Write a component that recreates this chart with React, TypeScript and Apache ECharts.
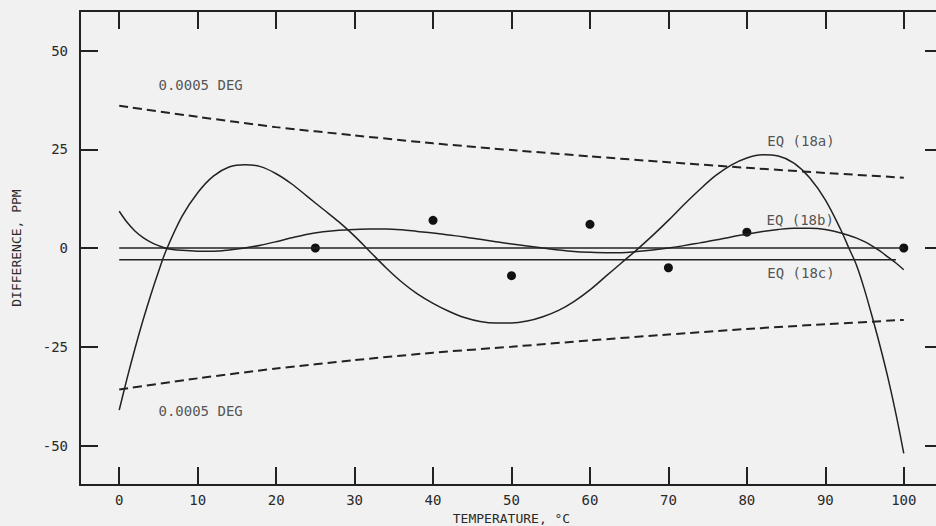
import React, { useEffect, useRef } from "react";
import * as echarts from "echarts";

// Temperature grid for the curves (°C)
const curveX = [0, 1, 2, 3, 4, 5, 6, 8, 10, 12, 14, 16, 18, 20, 22, 24, 26, 28, 30, 32, 34, 36, 38, 40, 42, 44, 46, 48, 50, 52, 54, 56, 58, 60, 62, 64, 66, 68, 70, 72, 74, 76, 78, 80, 82, 84, 86, 88, 90, 92, 93, 94, 95, 96, 97, 98, 99, 100];

// EQ (18a) difference, ppm
const eq18a = [-41, -33, -25.5, -18.5, -12, -6, -0.5, 8, 14, 18.2, 20.5, 21.1, 20.6, 18.8, 16.2, 13, 9.8, 6.6, 3, -1, -5, -8.6, -11.6, -14, -16, -17.6, -18.6, -19, -19, -18.5, -17.4, -15.8, -13.5, -10.6, -7.2, -3.8, -0.4, 3.2, 7, 11, 14.8, 18.3, 21, 22.8, 23.6, 23.3, 21.5, 17.8, 12.2, 4.5, 0, -4.5, -10.6, -17.6, -25, -33, -42, -52];

// EQ (18b) difference, ppm
const eq18b = [9.3, 6.5, 4.3, 2.7, 1.5, 0.6, -0.1, -0.6, -0.8, -0.8, -0.5, 0, 0.7, 1.6, 2.6, 3.5, 4.1, 4.5, 4.7, 4.8, 4.8, 4.6, 4.2, 3.8, 3.3, 2.8, 2.2, 1.6, 1, 0.5, 0, -0.5, -0.9, -1.1, -1.2, -1.2, -0.9, -0.5, 0, 0.6, 1.3, 2, 2.8, 3.5, 4.2, 4.7, 5, 5, 4.7, 3.8, 3.2, 2.5, 1.6, 0.5, -0.8, -2.3, -3.8, -5.5];

// EQ (18c) constant line and zero reference
const eq18cX = [0, 99];
const eq18cY = [-3, -3];
const zeroX = [0, 100];
const zeroY = [0, 0];

// 0.0005 DEG equivalent bands
const bandX = [0, 10, 20, 30, 40, 50, 60, 70, 80, 90, 100];
const bandUpper = [36, 33.2, 30.6, 28.5, 26.5, 24.8, 23.2, 21.7, 20.3, 19, 17.8];
const bandLower = [-35.8, -33, -30.5, -28.4, -26.5, -25, -23.4, -21.9, -20.5, -19.3, -18.2];

// Observed points
const obsX = [25, 40, 50, 60, 70, 80, 100];
const obsY = [0, 7, -7, 6, -5, 4, 0];

// Ticks
const xTicks = [0, 10, 20, 30, 40, 50, 60, 70, 80, 90, 100];
const yTicks = [-50, -25, 0, 25, 50];

// Annotations
const noteText = ["0.0005 DEG", "0.0005 DEG", "EQ (18a)", "EQ (18b)", "EQ (18c)"];
const noteX = [5, 5, 82.6, 82.5, 82.6];
const noteY = [41.3, -41.3, 27.2, 7.0, -6.3];

const INK = "#222";
const TXT = "#2a2a2a";
const FONT = "DejaVu Sans Mono";

export default function App() {
  const ref = useRef<HTMLDivElement>(null);
  useEffect(() => {
    if (!ref.current) return;
    const chart = echarts.init(ref.current, undefined, { renderer: "svg" });
    const zip = (xs: number[], ys: number[]) => xs.map((x, i) => [x, ys[i]]);
    const lineSeries = (data: number[][], dashed = false, width = 1.5) => ({
      type: "line",
      data,
      showSymbol: false,
      symbol: "none",
      smooth: dashed ? 0.2 : 0.35,
      lineStyle: { color: INK, width, type: dashed ? [9, 5] : "solid" },
      silent: true,
    });
    const axisCommon = {
      axisLine: { show: true, onZero: false, lineStyle: { color: INK, width: 2 } },
      splitLine: { show: false },
    };
    chart.setOption({
      animation: false,
      backgroundColor: "#f1f1f1",
      grid: { left: 80, right: -7, top: 11, bottom: 41, containLabel: false, outerBoundsMode: "none" },
      xAxis: [
        {
          type: "value",
          min: -5,
          max: 105,
          position: "bottom",
          ...axisCommon,
          axisTick: { show: true, inside: true, length: 18, customValues: xTicks, lineStyle: { color: INK, width: 2 } },
          axisLabel: { show: true, customValues: xTicks, color: TXT, fontFamily: FONT, fontSize: 14, margin: 8 },
          name: "TEMPERATURE, °C",
          nameLocation: "middle",
          nameGap: 24,
          nameTextStyle: { color: TXT, fontFamily: FONT, fontSize: 13 },
        },
        {
          type: "value",
          min: -5,
          max: 105,
          position: "top",
          ...axisCommon,
          axisTick: { show: true, inside: true, length: 18, customValues: xTicks, lineStyle: { color: INK, width: 2 } },
          axisLabel: { show: false },
        },
      ],
      yAxis: [
        {
          type: "value",
          min: -60,
          max: 60,
          position: "left",
          ...axisCommon,
          axisTick: { show: true, inside: true, length: 18, customValues: yTicks, lineStyle: { color: INK, width: 2 } },
          axisLabel: { show: true, customValues: yTicks, color: TXT, fontFamily: FONT, fontSize: 14, margin: 12 },
          name: "DIFFERENCE, PPM",
          nameLocation: "middle",
          nameGap: 57,
          nameRotate: 90,
          nameTextStyle: { color: TXT, fontFamily: FONT, fontSize: 13 },
        },
        {
          type: "value",
          min: -60,
          max: 60,
          position: "right",
          ...axisCommon,
          axisTick: { show: true, inside: true, length: 18, customValues: yTicks, lineStyle: { color: INK, width: 2 } },
          axisLabel: { show: false },
        },
      ],
      series: [
        lineSeries(zip(bandX, bandUpper), true, 2),
        lineSeries(zip(bandX, bandLower), true, 2),
        lineSeries(zip(curveX, eq18a)),
        lineSeries(zip(curveX, eq18b)),
        { ...lineSeries(zip(zeroX, zeroY)), smooth: false },
        { ...lineSeries(zip(eq18cX, eq18cY)), smooth: false },
        {
          type: "scatter",
          data: zip(obsX, obsY),
          symbol: "circle",
          symbolSize: 9,
          itemStyle: { color: "#111", opacity: 1 },
          silent: true,
        },
        {
          type: "scatter",
          data: noteText.map((t, i) => ({ value: [noteX[i], noteY[i]], name: t })),
          symbolSize: 0,
          silent: true,
          label: {
            show: true,
            position: "right",
            distance: 0,
            formatter: (p: any) => p.name,
            color: TXT,
            fontFamily: FONT,
            fontSize: 14,
          },
        },
      ],
    });
    return () => chart.dispose();
  }, []);
  return <div ref={ref} style={{ width: 936, height: 526, position: "absolute", left: 0, top: 0 }} />;
}
